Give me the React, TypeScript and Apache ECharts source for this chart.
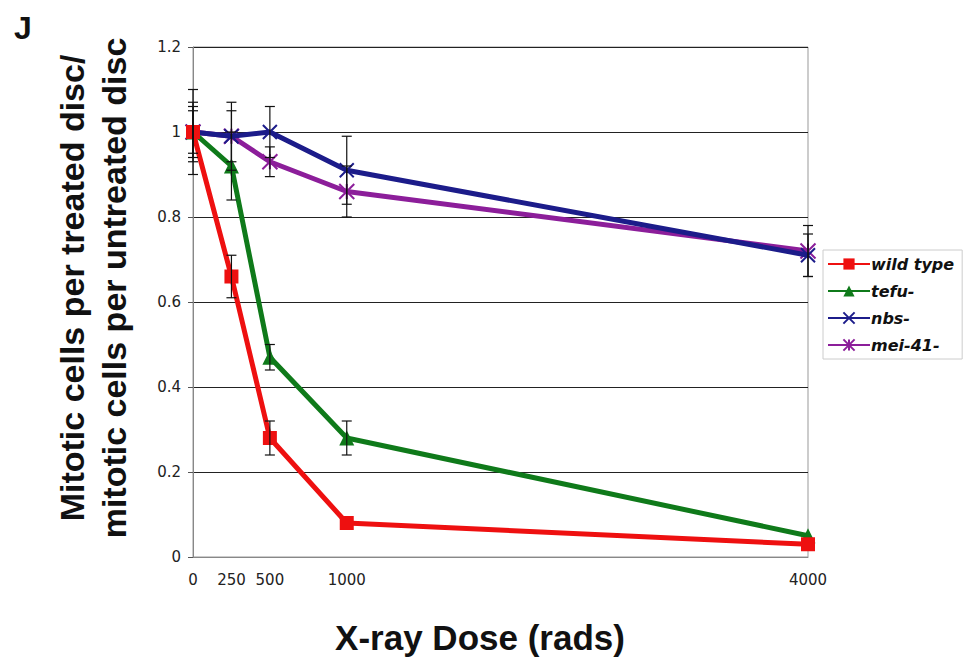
import React, { useEffect, useRef } from "react";
import * as echarts from "echarts";

const doses = [0, 250, 500, 1000, 4000];
const xTickValues = [0, 250, 500, 1000, 4000];

const wildType = [1.0, 0.66, 0.28, 0.08, 0.03];
const wildTypeErr = [0.06, 0.05, 0.04, 0, 0];
const tefu = [1.0, 0.92, 0.47, 0.28, 0.05];
const tefuErr = [0.1, 0.08, 0.03, 0.04, 0];
const nbs = [1.0, 0.99, 1.0, 0.91, 0.71];
const nbsErr = [0.07, 0.06, 0.06, 0.08, 0.05];
const mei41 = [1.0, 0.99, 0.93, 0.86, 0.72];
const mei41Err = [0.05, 0.08, 0.035, 0.06, 0.06];

const seriesNames = ["wild type", "tefu-", "nbs-", "mei-41-"];
const colors = ["#ee1010", "#0f7a1a", "#1c1c8a", "#8c1e9a"];

export default function App() {
  const ref = useRef<HTMLDivElement>(null);
  useEffect(() => {
    if (!ref.current) return;
    const chart = echarts.init(ref.current, undefined, { renderer: "svg" });
    const values = [wildType, tefu, nbs, mei41];
    const errs = [wildTypeErr, tefuErr, nbsErr, mei41Err];
    const symbols = [
      "rect",
      "triangle",
      "path://M0,0L10,10M10,0L0,10",
      "path://M0,0L10,10M10,0L0,10M5,0L5,10",
    ];
    const symbolSizes = [14, 15, 14, 15];

    const lineSeries = values.map((v, i) => ({
      name: seriesNames[i],
      type: "line",
      data: doses.map((d, j) => [d, v[j]]),
      symbol: symbols[i],
      symbolSize: symbolSizes[i],
      showSymbol: true,
      z: 10 - i,
      lineStyle: { color: colors[i], width: 5 },
      itemStyle: {
        color: colors[i],
        borderColor: colors[i],
        borderWidth: i >= 2 ? 2 : 0,
      },
      emphasis: { disabled: true },
    }));

    const errData: number[][] = [];
    values.forEach((v, i) => {
      doses.forEach((d, j) => {
        if (errs[i][j] > 0) errData.push([d, v[j] - errs[i][j], v[j] + errs[i][j]]);
      });
    });

    const errSeries = {
      type: "custom",
      name: "err",
      z: 20,
      data: errData,
      renderItem: (params: any, api: any) => {
        const x = api.value(0);
        const lo = api.coord([x, api.value(1)]);
        const hi = api.coord([x, api.value(2)]);
        const w = 5;
        const style = { stroke: "#111", lineWidth: 1.2 };
        return {
          type: "group",
          children: [
            { type: "line", shape: { x1: lo[0], y1: lo[1], x2: hi[0], y2: hi[1] }, style },
            { type: "line", shape: { x1: lo[0] - w, y1: lo[1], x2: lo[0] + w, y2: lo[1] }, style },
            { type: "line", shape: { x1: hi[0] - w, y1: hi[1], x2: hi[0] + w, y2: hi[1] }, style },
          ],
        };
      },
    };

    chart.setOption({
      animation: false,
      backgroundColor: "#ffffff",
      grid: {
        left: 193,
        right: 164,
        top: 47,
        bottom: 112,
        show: true,
        borderColor: "#999",
        borderWidth: 1,
      },
      xAxis: {
        type: "value",
        min: 0,
        max: 4000,
        splitLine: { show: false },
        axisLine: { show: true, lineStyle: { color: "#888", width: 1 } },
        axisTick: { show: false },
        axisLabel: {
          customValues: xTickValues,
          formatter: (v: number) => String(v),
          fontFamily: "DejaVu Sans",
          fontSize: 15,
          color: "#222",
          margin: 15,
        },
      },
      yAxis: {
        type: "value",
        min: 0,
        max: 1.2,
        interval: 0.2,
        splitLine: { show: true, lineStyle: { color: "#222", width: 1.2 } },
        axisLine: { show: true, lineStyle: { color: "#888", width: 1 } },
        axisTick: { show: true, length: 5, lineStyle: { color: "#555" } },
        axisLabel: {
          fontFamily: "DejaVu Sans",
          fontSize: 15,
          color: "#222",
          margin: 12,
        },
      },
      legend: {
        data: seriesNames,
        orient: "vertical",
        left: 823,
        top: 250,
        itemWidth: 42,
        itemHeight: 14,
        itemGap: 11,
        padding: [6, 8, 6, 4],
        borderColor: "#ccc",
        borderWidth: 1,
        textStyle: {
          fontFamily: "DejaVu Sans",
          fontWeight: "bold",
          fontStyle: "italic",
          fontSize: 16,
          color: "#111",
          padding: [0, 0, 0, -4],
        },
      },
      graphic: [
        {
          type: "text",
          left: 14,
          top: 12,
          style: {
            text: "J",
            font: "bold 32px 'Liberation Sans', Arial, sans-serif",
            fill: "#111",
          },
        },
        {
          type: "text",
          x: 93,
          y: 288,
          rotation: Math.PI / 2,
          style: {
            text: "Mitotic cells per treated disc/\nmitotic cells per untreated disc",
            font: "bold 34px 'Liberation Sans', Arial, sans-serif",
            fill: "#111",
            align: "center",
            verticalAlign: "middle",
            lineHeight: 42,
          },
        },
        {
          type: "text",
          x: 480,
          y: 637,
          style: {
            text: "X-ray Dose (rads)",
            font: "bold 35px 'Liberation Sans', Arial, sans-serif",
            fill: "#111",
            align: "center",
            verticalAlign: "middle",
          },
        },
      ],
      series: [...lineSeries, errSeries],
    });
    return () => chart.dispose();
  }, []);
  return (
    <div
      ref={ref}
      style={{ position: "fixed", left: 0, top: 0, width: 972, height: 669 }}
    />
  );
}
